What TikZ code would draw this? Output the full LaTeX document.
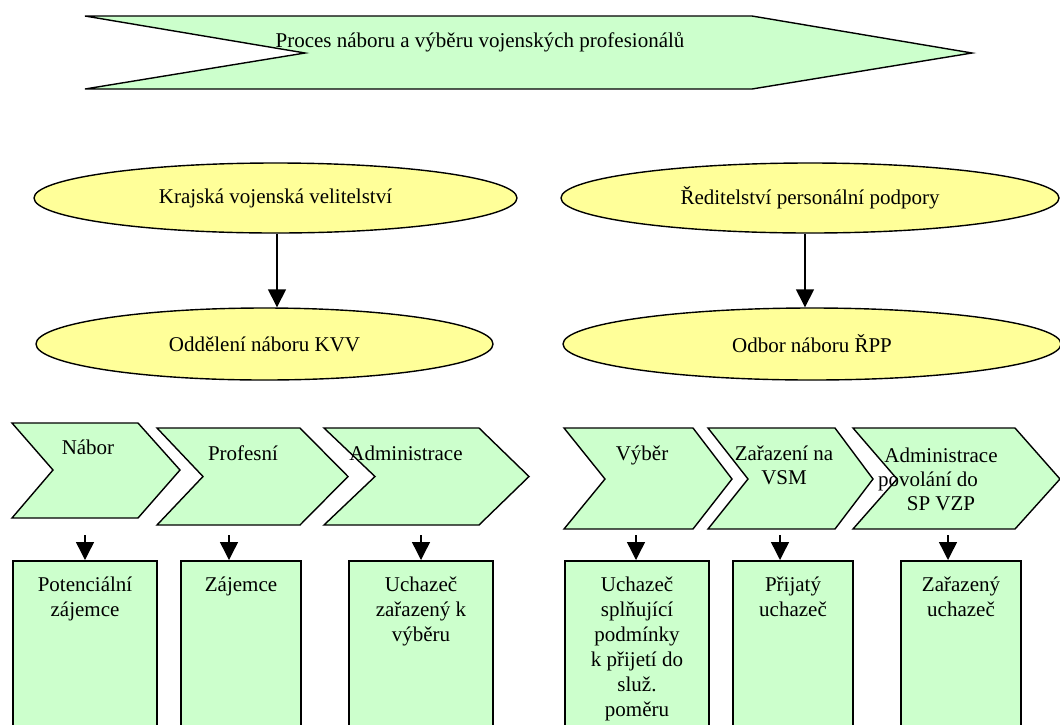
\documentclass[tikz,border=0pt]{standalone}
\usepackage{fontspec}
\setmainfont{Liberation Serif}
\usetikzlibrary{arrows.meta,shapes.geometric}
\definecolor{lgreen}{HTML}{CCFFCC}
\definecolor{lyellow}{HTML}{FFFF99}
\begin{document}
\begin{tikzpicture}[x=1pt,y=-1pt,
  txt/.style={font=\fontsize{21}{24}\selectfont, inner sep=0pt, align=center},
  txtb/.style={font=\fontsize{21}{25}\selectfont, inner sep=0pt, align=center, anchor=north},
  chev/.style={draw, fill=lgreen, line width=1.4pt, line join=miter},
  ell/.style={draw, fill=lyellow, ellipse, line width=1.4pt, inner sep=0pt,
              font=\fontsize{21}{24}\selectfont},
  box/.style={draw, fill=lgreen, line width=2pt, inner sep=0pt, anchor=north west,
              minimum height=190pt},
  arr/.style={line width=1.4pt, -{Triangle[length=18pt,width=18pt]}}
]
\clip (0,0) rectangle (1060,724);

% title banner
\draw[chev] (85,16) -- (752,16) -- (972,53) -- (752,89) -- (85,89) -- (305,53) -- cycle;
\node[txt, anchor=base] (title) at (480,47) {Proces náboru a výběru vojenských profesionálů};

% ellipses
\node[ell, minimum width=483pt, minimum height=70pt] (e1) at (275.5,198) {Krajská vojenská velitelství};
\node[ell, minimum width=498pt, minimum height=70pt] (e2) at (810,198) {Ředitelství personální podpory};
\node[ell, minimum width=457pt, minimum height=72pt] (e3) at (264.5,344) {Oddělení náboru KVV};
\node[ell, minimum width=498pt, minimum height=72pt] (e4) at (812,344) {Odbor náboru ŘPP};

\coordinate (u1) at ([xshift=1.5pt]e1.south);
\coordinate (u2) at ([xshift=-5pt]e2.south);
\draw[arr] (u1) -- (u1 |- e3.north);
\draw[arr] (u2) -- (u2 |- e4.north);

% chevrons
\draw[chev] (12,423) -- (138,423) -- (180,470) -- (138,518) -- (12,518) -- (53,470) -- cycle;
\draw[chev] (157,428) -- (300,428) -- (348,476.5) -- (300,525) -- (157,525) -- (203,476.5) -- cycle;
\draw[chev] (324,428) -- (479,428) -- (529,476.5) -- (479,525) -- (324,525) -- (375,476.5) -- cycle;
\draw[chev] (564,428) -- (693,428) -- (732,479) -- (693,529) -- (564,529) -- (605,479) -- cycle;
\draw[chev] (708,428) -- (835,428) -- (873,479) -- (835,529) -- (708,529) -- (748,479) -- cycle;
\draw[chev] (853,428) -- (1015,428) -- (1060,479) -- (1015,529) -- (853,529) -- (897,479) -- cycle;

\node[txt, anchor=base] (c1) at (88,454) {Nábor};
\node[txt, anchor=base] (c2) at (243,460) {Profesní};
\node[txt, anchor=base] (c3) at (406,460) {Administrace};
\node[txt, anchor=base] (c4) at (642,460) {Výběr};
\node[txt, anchor=north] (c5) at (784,446) {Zařazení na\\VSM};
\node[txt, anchor=north] (c6) at (941,447.5) {Administrace\\povolání do\rule{26pt}{0pt}\\SP VZP};

% result boxes
\node[box, minimum width=144pt] (b1) at (12,560) {};
\node[box, minimum width=120pt] (b2) at (180,560) {};
\node[box, minimum width=144pt] (b3) at (348,560) {};
\node[box, minimum width=144pt] (b4) at (564,560) {};
\node[box, minimum width=120pt] (b5) at (732,560) {};
\node[box, minimum width=120pt] (b6) at (900,560) {};

\node[txtb] (t1) at ([yshift=-17pt]b1.north) {Potenciální\\zájemce};
\node[txtb] (t2) at ([yshift=-17pt]b2.north) {Zájemce};
\node[txtb] (t3) at ([yshift=-17pt]b3.north) {Uchazeč\\zařazený k\\výběru};
\node[txtb] (t4) at ([yshift=-17pt]b4.north) {Uchazeč\\splňující\\podmínky\\k přijetí do\\služ.\\poměru};
\node[txtb] (t5) at ([yshift=-17pt]b5.north) {Přijatý\\uchazeč};
\node[txtb] (t6) at ([yshift=-17pt]b6.north) {Zařazený\\uchazeč};

% arrows chevron -> box
\coordinate (s1) at (85,535);
\coordinate (s2) at (229,535);
\coordinate (s3) at (421,535);
\coordinate (s4) at (636,535);
\coordinate (s5) at (780,535);
\coordinate (s6) at (948,535);
\draw[arr] (s1) -- (s1 |- b1.north);
\draw[arr] (s2) -- (s2 |- b2.north);
\draw[arr] (s3) -- (s3 |- b3.north);
\draw[arr] (s4) -- (s4 |- b4.north);
\draw[arr] (s5) -- (s5 |- b5.north);
\draw[arr] (s6) -- (s6 |- b6.north);
\end{tikzpicture}
\end{document}
